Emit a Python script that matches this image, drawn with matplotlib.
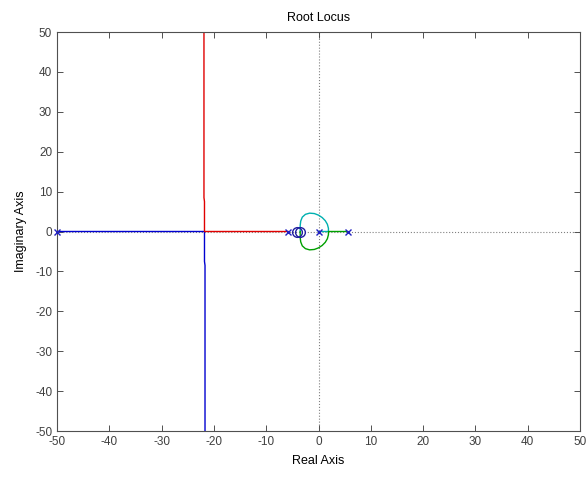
import matplotlib.pyplot as plt

plt.rcParams['font.family'] = ['Liberation Sans', 'DejaVu Sans']
plt.rcParams['axes.unicode_minus'] = False

# open-loop poles and zeros
poles_re = [-50, -5.8, 0, 5.6]
zeros_re = [-4.1, -3.5]

# branch 1 (blue): from pole at -50 to breakaway, then down
blue_re = [-50, -21.8, -21.8, -21.7, -21.7]
blue_im = [0, 0, -7.5, -8.5, -55]

# branch 2 (red): from pole at -5.8 to breakaway, then up
red_re = [-5.8, -21.8, -21.8, -21.9, -21.9]
red_im = [0, 0, 7.5, 8.5, 55]

# branch 3 (cyan): pole at 0, upper half of the loop into the zeros
cyan_re = [0, 1.9, 1.9, 1.7, 1.3, 0.7, 0.0, -0.8, -1.7, -2.5, -3.1, -3.4, -3.5, -3.5]
cyan_im = [0, 0, 0.8, 1.8, 2.7, 3.5, 4.1, 4.5, 4.6, 4.3, 3.6, 2.6, 1.5, 0]

# branch 4 (green): pole at 5.6, lower half of the loop
green_re = [5.6, 1.9, 1.9, 1.7, 1.3, 0.7, 0.0, -0.8, -1.7, -2.5, -3.1, -3.4, -3.5, -3.5]
green_im = [0, 0, -0.8, -1.8, -2.7, -3.5, -4.1, -4.5, -4.6, -4.3, -3.6, -2.6, -1.5, 0]

fig = plt.figure(figsize=(5.88, 4.78), dpi=100)
ax = fig.add_axes([57 / 588, 1 - 431 / 478, 523 / 588, 399 / 478])

# dotted axes through the origin
ax.axhline(0, color='#808080', linestyle=':', linewidth=0.8, zorder=1)
ax.axvline(0, color='#808080', linestyle=':', linewidth=0.8, zorder=1)

ax.plot(blue_re, blue_im, color='#0000d0', linewidth=1.0, zorder=2)
ax.plot(red_re, red_im, color='#e00000', linewidth=1.0, zorder=2)
ax.plot(cyan_re, cyan_im, color='#00b0b0', linewidth=1.0, zorder=2)
ax.plot(green_re, green_im, color='#00a000', linewidth=1.0, zorder=2)

ax.plot(poles_re, [0] * len(poles_re), 'x', color='#2020c0', markersize=5,
        markeredgewidth=1.0, zorder=3, clip_on=False)
ax.plot(zeros_re, [0] * len(zeros_re), 'o', color='#2020a0', markersize=7,
        markerfacecolor='none', markeredgewidth=1.0, zorder=3)

ax.set_xlim(-50, 50)
ax.set_ylim(-50, 50)
ax.set_xticks(range(-50, 51, 10))
ax.set_yticks(range(-50, 51, 10))
ax.tick_params(direction='in', top=True, right=True, length=4,
               labelsize=8.5, colors='#505050', labelcolor='#404040', width=0.7)
for s in ax.spines.values():
    s.set_color('#505050')
    s.set_linewidth(0.8)

ax.set_title('Root Locus', fontsize=9, pad=8)
ax.set_xlabel('Real Axis', fontsize=9, labelpad=5)
ax.set_ylabel('Imaginary Axis', fontsize=9, labelpad=6)

fig.savefig('out.png', dpi=100)
